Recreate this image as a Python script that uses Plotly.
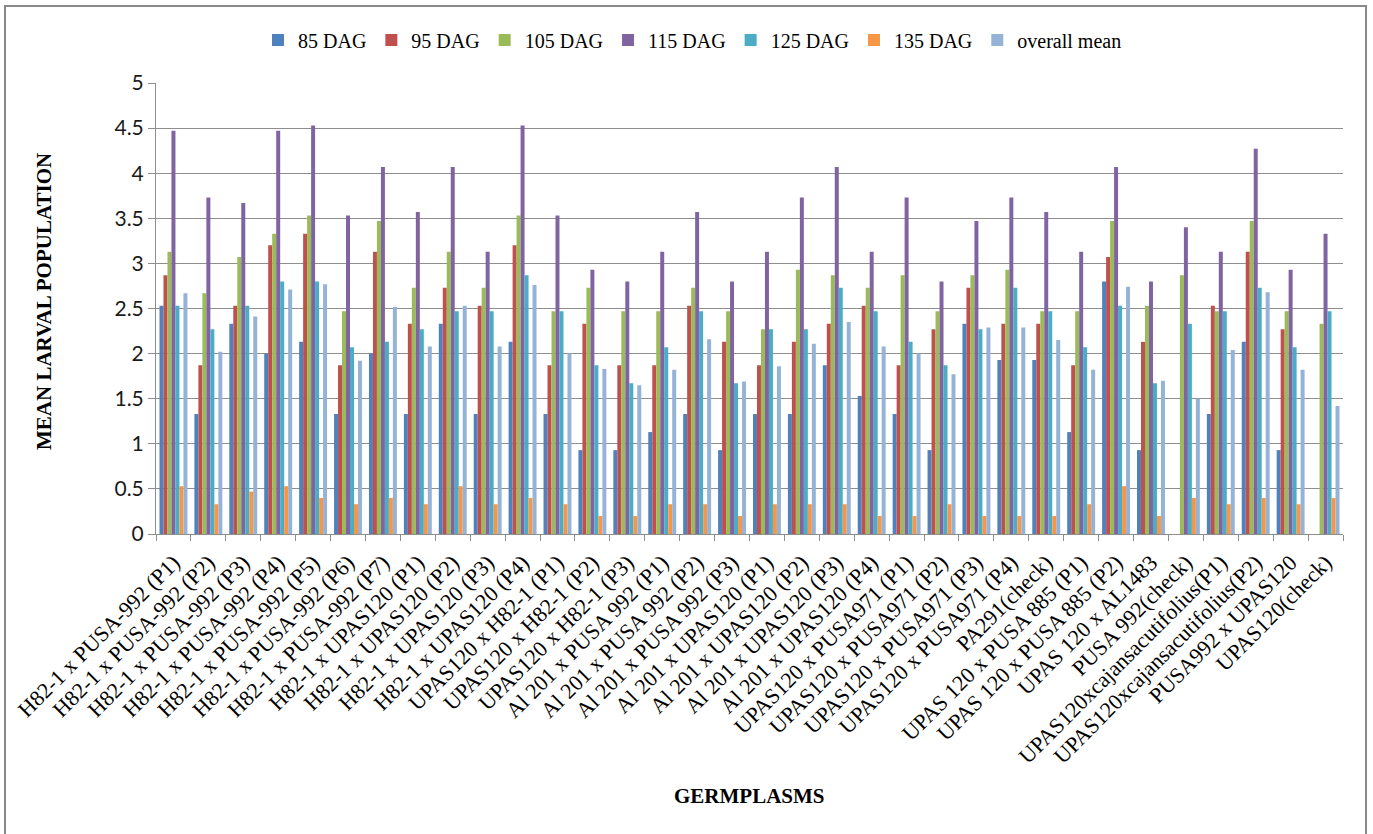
import plotly.graph_objects as go

germplasms = [
    "H82-1 x PUSA-992 (P1)", "H82-1 x PUSA-992 (P2)", "H82-1 x PUSA-992 (P3)",
    "H82-1 x PUSA-992 (P4)", "H82-1 x PUSA-992 (P5)", "H82-1 x PUSA-992 (P6)",
    "H82-1 x PUSA-992 (P7)", "H82-1 x UPAS120 (P1)", "H82-1 x UPAS120 (P2)",
    "H82-1 x UPAS120 (P3)", "H82-1 x UPAS120 (P4)", "UPAS120 x H82-1 (P1)",
    "UPAS120 x H82-1 (P2)", "UPAS120 x H82-1 (P3)", "Al 201 x PUSA 992 (P1)",
    "Al 201 x PUSA 992 (P2)", "Al 201 x PUSA 992 (P3)", "Al 201 x UPAS120 (P1)",
    "Al 201 x UPAS120 (P2)", "Al 201 x UPAS120 (P3)", "Al 201 x UPAS120 (P4)",
    "UPAS120 x PUSA971 (P1)", "UPAS120 x PUSA971 (P2)", "UPAS120 x PUSA971 (P3)",
    "UPAS120 x PUSA971 (P4)", "PA291(check)", "UPAS 120 x PUSA 885 (P1)",
    "UPAS 120 x PUSA 885 (P2)", "UPAS 120 x AL1483", "PUSA 992(check)",
    "UPAS120xcajansacutifolius(P1)", "UPAS120xcajansacutifolius(P2)",
    "PUSA992 x UPAS120", "UPAS120(check)",
]

dag85 = [2.53, 1.33, 2.33, 2.00, 2.13, 1.33, 2.00, 1.33, 2.33, 1.33, 2.13, 1.33,
         0.93, 0.93, 1.13, 1.33, 0.93, 1.33, 1.33, 1.87, 1.53, 1.33, 0.93, 2.33,
         1.93, 1.93, 1.13, 2.80, 0.93, 0.00, 1.33, 2.13, 0.93, 0.00]
dag95 = [2.87, 1.87, 2.53, 3.20, 3.33, 1.87, 3.13, 2.33, 2.73, 2.53, 3.20, 1.87,
         2.33, 1.87, 1.87, 2.53, 2.13, 1.87, 2.13, 2.33, 2.53, 1.87, 2.27, 2.73,
         2.33, 2.33, 1.87, 3.07, 2.13, 0.00, 2.53, 3.13, 2.27, 0.00]
dag105 = [3.13, 2.67, 3.07, 3.33, 3.53, 2.47, 3.47, 2.73, 3.13, 2.73, 3.53, 2.47,
          2.73, 2.47, 2.47, 2.73, 2.47, 2.27, 2.93, 2.87, 2.73, 2.87, 2.47, 2.87,
          2.93, 2.47, 2.47, 3.47, 2.53, 2.87, 2.47, 3.47, 2.47, 2.33]
dag115 = [4.47, 3.73, 3.67, 4.47, 4.53, 3.53, 4.07, 3.57, 4.07, 3.13, 4.53, 3.53,
          2.93, 2.80, 3.13, 3.57, 2.80, 3.13, 3.73, 4.07, 3.13, 3.73, 2.80, 3.47,
          3.73, 3.57, 3.13, 4.07, 2.80, 3.40, 3.13, 4.27, 2.93, 3.33]
dag125 = [2.53, 2.27, 2.53, 2.80, 2.80, 2.07, 2.13, 2.27, 2.47, 2.47, 2.87, 2.47,
          1.87, 1.67, 2.07, 2.47, 1.67, 2.27, 2.27, 2.73, 2.47, 2.13, 1.87, 2.27,
          2.73, 2.47, 2.07, 2.53, 1.67, 2.33, 2.47, 2.73, 2.07, 2.47]
dag135 = [0.53, 0.33, 0.47, 0.53, 0.40, 0.33, 0.40, 0.33, 0.53, 0.33, 0.40, 0.33,
          0.20, 0.20, 0.33, 0.33, 0.20, 0.33, 0.33, 0.33, 0.20, 0.20, 0.33, 0.20,
          0.20, 0.20, 0.33, 0.53, 0.20, 0.40, 0.33, 0.40, 0.33, 0.40]
overall_mean = [2.67, 2.02, 2.41, 2.71, 2.77, 1.92, 2.52, 2.08, 2.53, 2.08, 2.76,
                2.00, 1.83, 1.65, 1.82, 2.16, 1.69, 1.86, 2.11, 2.35, 2.08, 2.00,
                1.77, 2.29, 2.29, 2.15, 1.82, 2.74, 1.70, 1.50, 2.04, 2.68, 1.82,
                1.42]

y_ticks = [0, 0.5, 1, 1.5, 2, 2.5, 3, 3.5, 4, 4.5, 5]
y_tick_labels = ["0", "0.5", "1", "1.5", "2", "2.5", "3", "3.5", "4", "4.5", "5"]

series = [
    ("85 DAG", dag85, "#4F81BD"),
    ("95 DAG", dag95, "#C0504D"),
    ("105 DAG", dag105, "#9BBB59"),
    ("115 DAG", dag115, "#8064A2"),
    ("125 DAG", dag125, "#4BACC6"),
    ("135 DAG", dag135, "#F79646"),
    ("overall mean", overall_mean, "#95B3D7"),
]

W, H = 1373, 834
PL, PR, PT, PB = 156, 1343, 83, 534  # plot area in pixels


def px_x(x):
    return (x - PL) / (PR - PL)


def px_y(y):
    return (PB - y) / (PB - PT)


fig = go.Figure()
for name, vals, color in series:
    fig.add_trace(go.Bar(
        x=germplasms, y=vals, name=name,
        marker=dict(color=color, line=dict(width=0)),
    ))

serif = "Liberation Serif, Times New Roman, serif"
grid = "#8E8E8E"

fig.update_layout(
    width=W, height=H,
    margin=dict(l=PL, r=W - PR, t=PT, b=H - PB, autoexpand=False),
    paper_bgcolor="white", plot_bgcolor="white",
    barmode="group", bargap=0.2, bargroupgap=0,
    font=dict(family=serif, color="black"),
    legend=dict(
        orientation="h", x=px_x(258), xanchor="left", y=px_y(40), yanchor="middle",
        font=dict(family=serif, size=20, color="black"),
        itemwidth=30, traceorder="normal",
    ),
    xaxis=dict(
        type="category", tickangle=-45,
        tickfont=dict(family=serif, size=22, color="black"),
        showline=True, linecolor=grid, linewidth=1,
        ticks="outside", tickson="boundaries", ticklen=6, tickcolor=grid,
        ticklabelstandoff=6,
        showgrid=False,
    ),
    yaxis=dict(
        range=[0, 5], tickmode="array", tickvals=y_ticks, ticktext=y_tick_labels,
        tickfont=dict(family="Lato, Carlito, sans-serif", size=21, color="#1a1a1a"),
        showline=True, linecolor=grid, linewidth=1,
        ticks="outside", ticklen=7, tickcolor=grid,
        showgrid=True, gridcolor=grid, gridwidth=1,
        zeroline=False,
    ),
    annotations=[
        dict(text="<b>MEAN LARVAL POPULATION</b>", textangle=-90,
             xref="paper", yref="paper", x=px_x(44), y=px_y(302),
             xanchor="center", yanchor="middle", showarrow=False,
             font=dict(family=serif, size=21, color="black")),
        dict(text="<b>GERMPLASMS</b>",
             xref="paper", yref="paper", x=px_x(750), y=px_y(796),
             xanchor="center", yanchor="middle", showarrow=False,
             font=dict(family=serif, size=21, color="black")),
    ],
    shapes=[
        dict(type="rect", xref="paper", yref="paper",
             x0=px_x(5), x1=px_x(1366), y0=px_y(845), y1=px_y(6),
             line=dict(color="#898989", width=2), fillcolor="rgba(0,0,0,0)",
             layer="below"),
    ],
)

fig.write_html("out.html")
